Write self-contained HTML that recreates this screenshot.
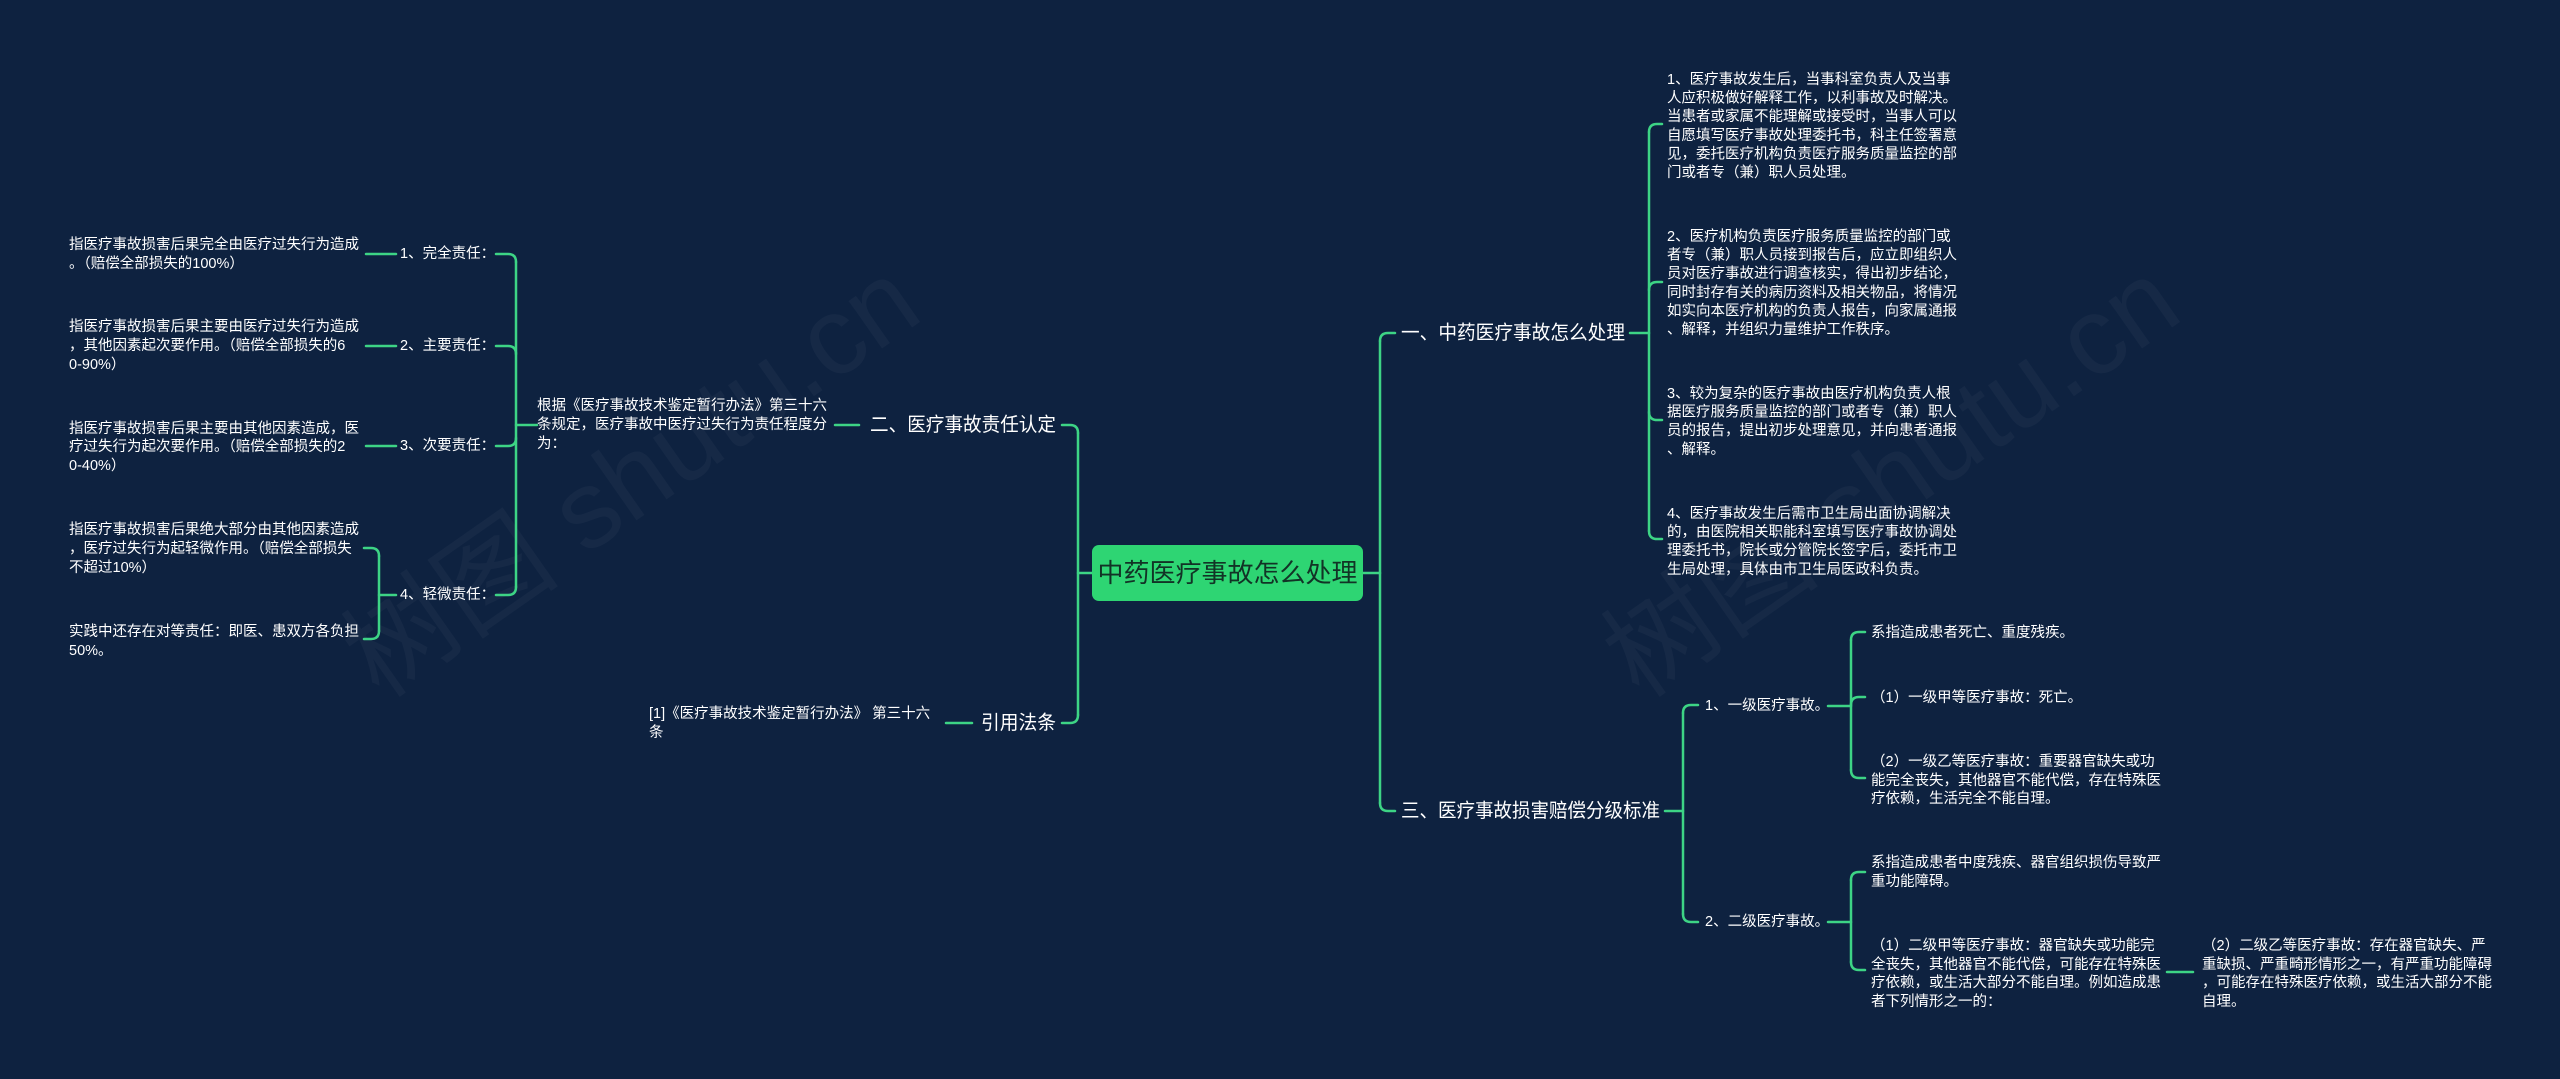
<!DOCTYPE html>
<html><head><meta charset="utf-8">
<style>
html,body{margin:0;padding:0;background:#0e2240;}
svg{display:block;}
text{font-family:"Liberation Sans","Noto Sans CJK SC",sans-serif;}
</style></head>
<body>
<svg width="2560" height="1079" viewBox="0 0 2560 1079" xmlns="http://www.w3.org/2000/svg">
<rect width="2560" height="1079" fill="#0e2240"/>
<g fill="rgba(255,255,255,0.035)" font-size="110" font-family="Liberation Serif,Noto Serif CJK SC,serif">
<text x="0" y="0" transform="translate(380,700) rotate(-35)">树图 shutu.cn</text>
<text x="0" y="0" transform="translate(1640,700) rotate(-35)">树图 shutu.cn</text>
</g>
<g fill="none" stroke="#3dd485" stroke-width="2.5" stroke-linecap="round">
<!-- central right -->
<path d="M1363,573 L1380,573"/>
<path d="M1380,341 L1380,803"/>
<path d="M1380,341 Q1380,333 1388,333 L1395,333"/>
<path d="M1380,803 Q1380,811 1388,811 L1395,811"/>
<!-- central left -->
<path d="M1092,573 L1078,573"/>
<path d="M1078,433 L1078,715"/>
<path d="M1078,433 Q1078,425 1070,425 L1062,425"/>
<path d="M1078,715 Q1078,723 1070,723 L1062,723"/>
<!-- branch 一 -->
<path d="M1630,333 L1649,333"/>
<path d="M1649,132 L1649,531"/>
<path d="M1649,132 Q1649,124 1657,124 L1662,124"/>
<path d="M1649,290 Q1649,282 1657,282 L1662,282"/>
<path d="M1649,412 Q1649,420 1657,420 L1662,420"/>
<path d="M1649,531 Q1649,539 1657,539 L1662,539"/>
<!-- branch 三 -->
<path d="M1665,811 L1683,811"/>
<path d="M1683,713 L1683,914"/>
<path d="M1683,713 Q1683,705 1691,705 L1698,705"/>
<path d="M1683,914 Q1683,922 1691,922 L1698,922"/>
<!-- 一级 -->
<path d="M1828,706 L1851,706"/>
<path d="M1851,640 L1851,770"/>
<path d="M1851,640 Q1851,632 1859,632 L1865,632"/>
<path d="M1851,705 Q1851,697 1859,697 L1865,697"/>
<path d="M1851,770 Q1851,778 1859,778 L1865,778"/>
<!-- 二级 -->
<path d="M1828,922 L1851,922"/>
<path d="M1851,880 L1851,962"/>
<path d="M1851,880 Q1851,872 1859,872 L1865,872"/>
<path d="M1851,962 Q1851,970 1859,970 L1865,970"/>
<path d="M2167,972 L2193,972"/>
<!-- branch 二 -->
<path d="M859,425 L835,425"/>
<path d="M537,425 L516,425"/>
<path d="M516,262 L516,587"/>
<path d="M516,262 Q516,254 508,254 L496,254"/>
<path d="M516,354 Q516,346 508,346 L496,346"/>
<path d="M516,438 Q516,446 508,446 L496,446"/>
<path d="M516,587 Q516,595 508,595 L496,595"/>
<path d="M396,254 L366,254"/>
<path d="M396,346 L366,346"/>
<path d="M396,446 L366,446"/>
<path d="M396,595 L379,595"/>
<path d="M379,556 L379,631"/>
<path d="M379,556 Q379,548 371,548 L364,548"/>
<path d="M379,631 Q379,639 371,639 L364,639"/>
<!-- 引用法条 -->
<path d="M972,723 L946,723"/>
</g>
<!-- central node -->
<rect x="1092" y="545" width="271" height="56" rx="7" fill="#2ed573"/>
<text x="1227.5" y="573" font-size="26" fill="#123326" text-anchor="middle" dominant-baseline="central">中药医疗事故怎么处理</text>

<g fill="#ffffff" font-size="19.5" dominant-baseline="central">
<text x="1401" y="333" textLength="224" lengthAdjust="spacingAndGlyphs">一、中药医疗事故怎么处理</text>
<text x="1401" y="811" textLength="259" lengthAdjust="spacingAndGlyphs">三、医疗事故损害赔偿分级标准</text>
<text x="870" y="425" textLength="186" lengthAdjust="spacingAndGlyphs">二、医疗事故责任认定</text>
<text x="981" y="723" textLength="75" lengthAdjust="spacingAndGlyphs">引用法条</text>
</g>

<g fill="#ffffff" font-size="14.5" dominant-baseline="central">
<!-- right 一 children -->
<text x="1667" y="80">1、医疗事故发生后，当事科室负责人及当事</text>
<text x="1667" y="98.6">人应积极做好解释工作，以利事故及时解决。</text>
<text x="1667" y="117.2">当患者或家属不能理解或接受时，当事人可以</text>
<text x="1667" y="135.8">自愿填写医疗事故处理委托书，科主任签署意</text>
<text x="1667" y="154.4">见，委托医疗机构负责医疗服务质量监控的部</text>
<text x="1667" y="173">门或者专（兼）职人员处理。</text>

<text x="1667" y="237">2、医疗机构负责医疗服务质量监控的部门或</text>
<text x="1667" y="255.6">者专（兼）职人员接到报告后，应立即组织人</text>
<text x="1667" y="274.2">员对医疗事故进行调查核实，得出初步结论，</text>
<text x="1667" y="292.8">同时封存有关的病历资料及相关物品，将情况</text>
<text x="1667" y="311.4">如实向本医疗机构的负责人报告，向家属通报</text>
<text x="1667" y="330">、解释，并组织力量维护工作秩序。</text>

<text x="1667" y="394">3、较为复杂的医疗事故由医疗机构负责人根</text>
<text x="1667" y="412.6">据医疗服务质量监控的部门或者专（兼）职人</text>
<text x="1667" y="431.2">员的报告，提出初步处理意见，并向患者通报</text>
<text x="1667" y="449.8">、解释。</text>

<text x="1667" y="514">4、医疗事故发生后需市卫生局出面协调解决</text>
<text x="1667" y="532.6">的，由医院相关职能科室填写医疗事故协调处</text>
<text x="1667" y="551.2">理委托书，院长或分管院长签字后，委托市卫</text>
<text x="1667" y="569.8">生局处理，具体由市卫生局医政科负责。</text>

<!-- right 三 children -->
<text x="1705" y="706">1、一级医疗事故。</text>
<text x="1705" y="922">2、二级医疗事故。</text>

<text x="1871" y="633">系指造成患者死亡、重度残疾。</text>
<text x="1871" y="698">（1）一级甲等医疗事故：死亡。</text>
<text x="1871" y="762">（2）一级乙等医疗事故：重要器官缺失或功</text>
<text x="1871" y="781">能完全丧失，其他器官不能代偿，存在特殊医</text>
<text x="1871" y="799">疗依赖，生活完全不能自理。</text>

<text x="1871" y="863">系指造成患者中度残疾、器官组织损伤导致严</text>
<text x="1871" y="882">重功能障碍。</text>
<text x="1871" y="946">（1）二级甲等医疗事故：器官缺失或功能完</text>
<text x="1871" y="965">全丧失，其他器官不能代偿，可能存在特殊医</text>
<text x="1871" y="983">疗依赖，或生活大部分不能自理。例如造成患</text>
<text x="1871" y="1002">者下列情形之一的：</text>

<text x="2202" y="946">（2）二级乙等医疗事故：存在器官缺失、严</text>
<text x="2202" y="965">重缺损、严重畸形情形之一，有严重功能障碍</text>
<text x="2202" y="983">，可能存在特殊医疗依赖，或生活大部分不能</text>
<text x="2202" y="1002">自理。</text>

<!-- left -->
<text x="537" y="406">根据《医疗事故技术鉴定暂行办法》第三十六</text>
<text x="537" y="425">条规定，医疗事故中医疗过失行为责任程度分</text>
<text x="537" y="444">为：</text>

<text x="400" y="254">1、完全责任：</text>
<text x="400" y="346">2、主要责任：</text>
<text x="400" y="446">3、次要责任：</text>
<text x="400" y="595">4、轻微责任：</text>

<text x="69" y="245">指医疗事故损害后果完全由医疗过失行为造成</text>
<text x="69" y="264">。（赔偿全部损失的100%）</text>

<text x="69" y="327">指医疗事故损害后果主要由医疗过失行为造成</text>
<text x="69" y="346">，其他因素起次要作用。（赔偿全部损失的6</text>
<text x="69" y="365">0-90%）</text>

<text x="69" y="429">指医疗事故损害后果主要由其他因素造成，医</text>
<text x="69" y="447">疗过失行为起次要作用。（赔偿全部损失的2</text>
<text x="69" y="466">0-40%）</text>

<text x="69" y="530">指医疗事故损害后果绝大部分由其他因素造成</text>
<text x="69" y="549">，医疗过失行为起轻微作用。（赔偿全部损失</text>
<text x="69" y="568">不超过10%）</text>

<text x="69" y="632">实践中还存在对等责任：即医、患双方各负担</text>
<text x="69" y="651">50%。</text>

<text x="649" y="714">[1]《医疗事故技术鉴定暂行办法》 第三十六</text>
<text x="649" y="733">条</text>
</g>
</svg>
</body></html>
